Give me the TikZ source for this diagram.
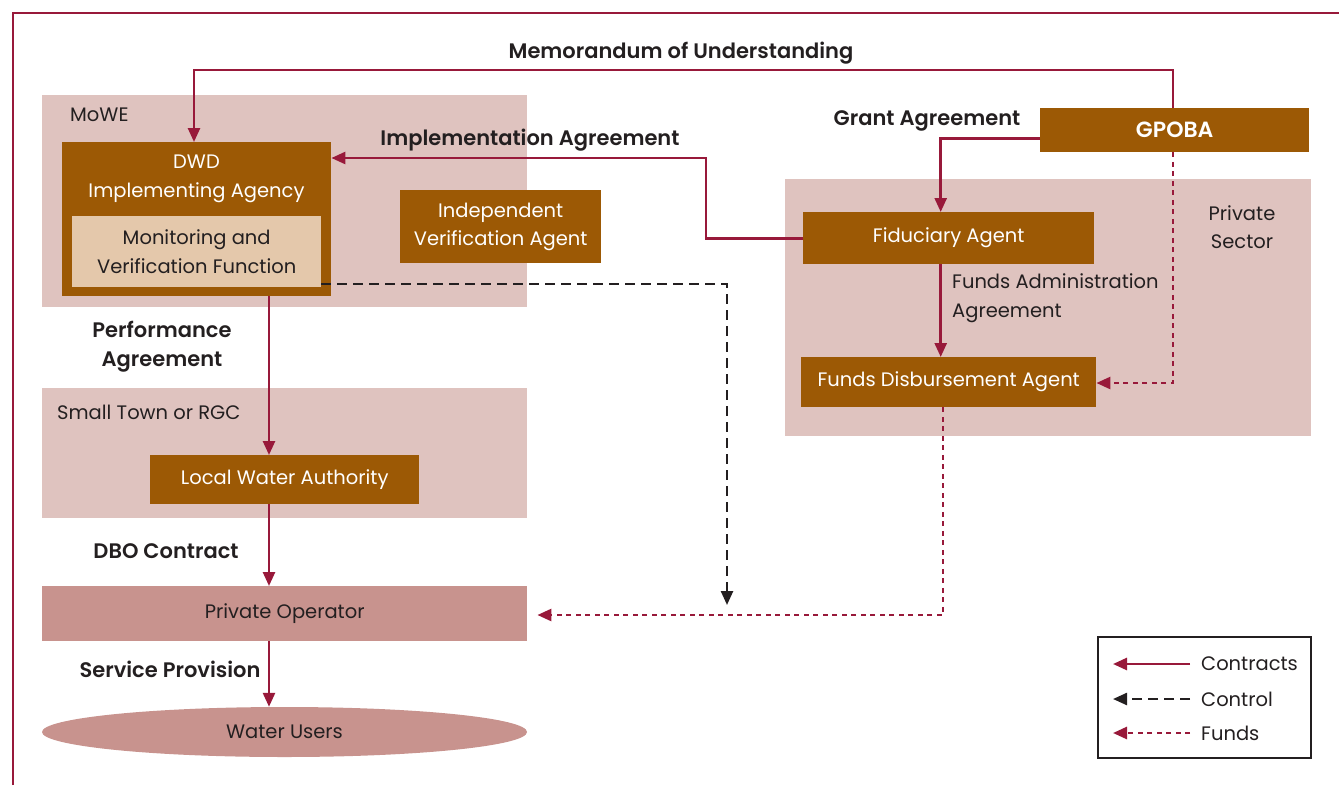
\documentclass[tikz,border=0pt]{standalone}
\usepackage{fontspec}
\setmainfont{Poppins}[BoldFont={Poppins SemiBold}]
\usetikzlibrary{arrows.meta,shapes.geometric}

\definecolor{crimson}{HTML}{98193A}
\definecolor{umber}{HTML}{9C5905}
\definecolor{rosefill}{HTML}{DFC3BF}
\definecolor{opfill}{HTML}{C8938E}
\definecolor{tanfill}{HTML}{E4C8AB}
\definecolor{ink}{HTML}{231F20}

\tikzset{
  boxfont/.style={font=\fontsize{19.5}{28.5}\selectfont},
  region/.style={fill=rosefill, draw=none, inner sep=0pt, anchor=north west},
  agentbox/.style={fill=umber, text=white, inner sep=0pt, align=center, anchor=north west, boxfont},
  tanbox/.style={fill=tanfill, text=ink, inner sep=0pt, align=center, anchor=north west, boxfont},
  plainlabel/.style={text=ink, inner sep=0pt, boxfont},
  boldlabel/.style={text=ink, inner sep=0pt, align=center, font=\fontsize{21}{29}\selectfont\bfseries},
  contract/.style={draw=crimson, line width=2.6pt, -{Triangle[length=14pt,width=12pt,fill=crimson]}},
  control/.style={draw=ink, line width=2.4pt, dash pattern=on 10pt off 6pt,
    -{Triangle[length=14pt,width=12pt,fill=ink]}},
  funds/.style={draw=crimson, line width=2.6pt, dash pattern=on 5pt off 4.5pt,
    -{Triangle[length=14pt,width=12pt,fill=crimson]}},
}

\begin{document}
\begin{tikzpicture}[x=1pt,y=-1pt]
\useasboundingbox (0,0) rectangle (1339,785);

% outer frame (top and left edges)
\draw[crimson, line width=2pt] (13,785) -- (13,13) -- (1339,13);

% shaded regions
\node[region, minimum width=485pt, minimum height=212pt] (mowe) at (42,95) {};
\node[region, minimum width=485pt, minimum height=130pt] (town) at (42,388) {};
\node[region, minimum width=526pt, minimum height=257pt] (private) at (785,179) {};
\node[plainlabel, anchor=west] (moweLbl) at (70,115) {MoWE};
\node[plainlabel, anchor=west] (townLbl) at (57,412) {Small Town or RGC};
\node[plainlabel, align=center] (privLbl) at (1242,227) {Private\\Sector};

% ministry side
\node[agentbox, minimum width=269pt, minimum height=154pt] (dwd) at (62,142) {};
\node[text=white, inner sep=0pt, align=center, boxfont] (dwdLbl) at (196.5,179)
  {DWD\\Implementing Agency};
\node[tanbox, minimum width=249pt, minimum height=71pt] (mvf) at (72,216)
  {Monitoring and\\Verification Function};
\node[agentbox, minimum width=201pt, minimum height=73pt] (iva) at (400,190)
  {Independent\\Verification Agent};
\node[agentbox, minimum width=269pt, minimum height=49pt] (lwa) at (150,455)
  {Local Water Authority};
\node[region, fill=opfill, text=ink, minimum width=485pt, minimum height=55pt, boxfont]
  (op) at (42,586) {Private Operator};
\node[ellipse, fill=opfill, text=ink, inner sep=0pt, minimum width=485pt, minimum height=50pt, boxfont]
  (users) at (284.5,732) {Water Users};

% private sector side
\node[agentbox, minimum width=269pt, minimum height=44pt,
  font=\fontsize{22}{28}\selectfont\bfseries] (gpoba) at (1040,108) {GPOBA};
\node[agentbox, minimum width=291pt, minimum height=52pt] (fid) at (803,212) {Fiduciary Agent};
\node[agentbox, minimum width=295pt, minimum height=50pt] (fda) at (801,357) {Funds Disbursement Agent};

% connector labels
\node[boldlabel] (mouLbl) at (681,53) {Memorandum of Understanding};
\node[boldlabel] (implLbl) at (530,140) {Implementation Agreement};
\node[boldlabel] (grantLbl) at (927,121) {Grant Agreement};
\node[boldlabel] (perfLbl) at (162,347) {Performance\\Agreement};
\node[boldlabel] (dboLbl) at (166,551) {DBO Contract};
\node[boldlabel] (servLbl) at (170,669) {Service Provision};
\node[plainlabel, align=left, anchor=west] (faaLbl) at (952,298) {Funds Administration\\Agreement};

% routing points
\coordinate (spine) at (269,0);
\coordinate (mouTurn) at (194,70);
\coordinate (implTurn) at (706,158);
\coordinate (ctrlTurn) at (727,284);
\coordinate (ctrlEnd) at (727,605);
\coordinate (fundsTurn) at (1173,383);
\coordinate (payTurn) at (943,615);

% contracts
\draw[contract] (gpoba.north -| fundsTurn) |- (mouTurn) -- (mouTurn |- dwd.north);
\draw[contract] (fid.west) -| (implTurn) -- (implTurn -| dwd.east);
\draw[contract] ([yshift=-8pt]gpoba.west) -| ([xshift=-8pt]fid.north);
\draw[contract] ([xshift=-8pt]fid.south) -- ([xshift=-8pt]fid.south |- fda.north);
\draw[contract] (dwd.south -| spine) -- (lwa.north -| spine);
\draw[contract] (lwa.south -| spine) -- (op.north -| spine);
\draw[contract] (op.south -| spine) -- (users.north -| spine);

% control
\draw[control] (mvf.south east |- ctrlTurn) -- (ctrlTurn) -- (ctrlEnd);

% funds
\draw[funds] (gpoba.south -| fundsTurn) -- (fundsTurn) -- (fundsTurn -| fda.east);
\draw[funds] (fda.south -| payTurn) -- (payTurn) -- ([xshift=10pt]payTurn -| op.east);

% legend
\node[draw=ink, line width=2pt, inner sep=0pt, minimum width=213pt, minimum height=121pt,
  anchor=north west] (legend) at (1097,636) {};
\node[plainlabel, anchor=west] (lgContract) at (1201,664) {Contracts};
\node[plainlabel, anchor=west] (lgControl) at (1201,699) {Control};
\node[plainlabel, anchor=west] (lgFunds) at (1201,733) {Funds};
\draw[contract] ([xshift=-11pt]lgContract.west) -- ++(-77,0);
\draw[control] ([xshift=-11pt]lgControl.west) -- ++(-77,0);
\draw[funds] ([xshift=-11pt]lgFunds.west) -- ++(-77,0);
\end{tikzpicture}
\end{document}
